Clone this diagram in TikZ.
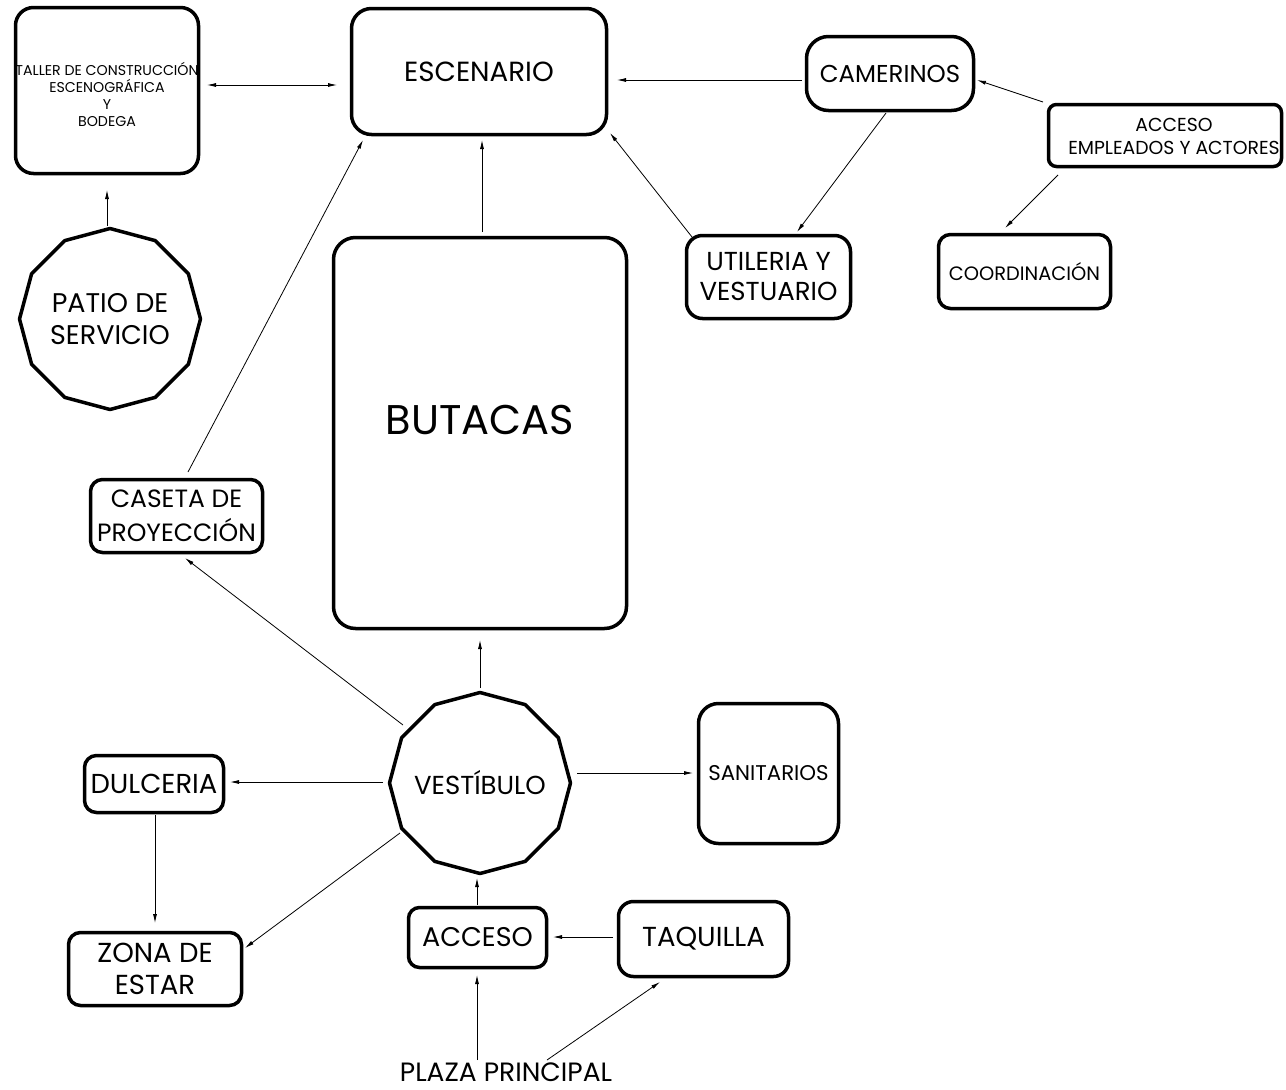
\documentclass[tikz,border=0pt]{standalone}
\usepackage{fontspec}
\setmainfont{Poppins}
\usetikzlibrary{arrows.meta,calc}
\newcommand\myfs[2]{\fontsize{#1}{#2}\selectfont}
\begin{document}
\begin{tikzpicture}[x=1pt,y=-1pt,
  box/.style={draw, line width=3.5pt, rounded corners=#1, inner sep=0pt, align=center},
  box/.default=18pt,
  poly/.style={circle, inner sep=0pt, align=center, minimum size=184pt},
  conn/.style={line width=0.8pt, -{Latex[length=9pt,width=4pt]}},
  dconn/.style={line width=0.8pt, {Latex[length=9pt,width=4pt]}-{Latex[length=9pt,width=4pt]}},
  plain/.style={line width=0.8pt}
]
\useasboundingbox[fill=white] (0,0) rectangle (1286,1090);

% boxes
\node[box=18pt, minimum width=183pt, minimum height=166pt,
  label={[font=\myfs{14.2}{17}, align=center, yshift=-4pt]center:TALLER DE CONSTRUCCIÓN\\ESCENOGRÁFICA\\Y\\BODEGA}]
  (taller) at (107,90.5) {};
\node[box=20pt, minimum width=255pt, minimum height=126pt, font=\myfs{27.7}{32}] (escenario) at (479,71.5) {ESCENARIO};
\node[box=22pt, minimum width=167pt, minimum height=74pt, font=\myfs{24.4}{30}] (camerinos) at (890,73.5) {CAMERINOS};
\node[box=8pt, minimum width=233pt, minimum height=62pt,
  label={[font=\myfs{18.8}{23}, align=center, xshift=9pt, yshift=-1pt]center:ACCESO\\EMPLEADOS Y ACTORES}]
  (accemp) at (1165,135.5) {};
\node[box=12pt, minimum width=172pt, minimum height=74pt, font=\myfs{19.4}{22}] (coord) at (1024.5,271.5) {COORDINACIÓN};
\node[box=16pt, minimum width=164pt, minimum height=83pt, font=\myfs{26}{30}] (utileria) at (768.5,277) {UTILERIA Y\\VESTUARIO};
\node[box=22pt, minimum width=293pt, minimum height=391pt,
  label={[font=\myfs{41.5}{50}, yshift=13pt]center:BUTACAS}]
  (butacas) at (480,433) {};
\node[box=12pt, minimum width=172pt, minimum height=73pt, font=\myfs{25}{34}] (caseta) at (176.5,516) {CASETA DE\\PROYECCIÓN};
\node[box=12pt, minimum width=139pt, minimum height=57pt, font=\myfs{27.4}{30}] (dulceria) at (154,784) {DULCERIA};
\node[box=12pt, minimum width=173pt, minimum height=73pt, font=\myfs{27.5}{32}] (zona) at (155,969) {ZONA DE\\ESTAR};
\node[box=20pt, minimum width=140pt, minimum height=140pt, font=\myfs{21.3}{24}] (sanitarios) at (768.5,773.5) {SANITARIOS};
\node[box=11pt, minimum width=138pt, minimum height=60pt, font=\myfs{27}{30}] (acceso) at (477.5,937.5) {ACCESO};
\node[box=15pt, minimum width=170pt, minimum height=75pt, font=\myfs{27.5}{30}] (taquilla) at (703.5,939) {TAQUILLA};
\node[font=\myfs{26.5}{30}, inner sep=0pt] (plaza) at (506,1072) {PLAZA PRINCIPAL};

% dodecagons
\node[poly, font=\myfs{27}{32}] (patio) at (110,319) {PATIO DE\\SERVICIO};
\draw[line width=3.5pt, line join=round] ([shift={(90:90.5)}]patio.center)
  \foreach \a in {120,150,...,420} { -- ([shift={(\a:90.5)}]patio.center) } -- cycle;
\node[poly, font=\myfs{26}{30}] (vest) at (480,783) {VESTÍBULO};
\draw[line width=3.5pt, line join=round] ([shift={(90:90.5)}]vest.center)
  \foreach \a in {120,150,...,420} { -- ([shift={(\a:90.5)}]vest.center) } -- cycle;

% connectors
\draw[dconn] ([shift={(100,-5.5)}]taller.center) -- ([shift={(-142,13.5)}]escenario.center);
\draw[conn] ([shift={(-3,-93)}]patio.center) -- ([shift={(0,99.5)}]taller.center);
\draw[conn] ([shift={(-88,6.5)}]camerinos.center) -- ([shift={(138,8.5)}]escenario.center);
\draw[conn] ([shift={(-76.5,-40)}]utileria.center) -- ([shift={(131,61.5)}]escenario.center);
\draw[conn] ([shift={(-4,39.5)}]camerinos.center) -- ([shift={(28.5,-45)}]utileria.center);
\draw[conn] ([shift={(-122,-33.5)}]accemp.center) -- ([shift={(87,6.5)}]camerinos.center);
\draw[conn] ([shift={(-107,39.5)}]accemp.center) -- ([shift={(-19.5,-43.5)}]coord.center);
\draw[conn] ([shift={(2,-201)}]butacas.center) -- ([shift={(3,68.5)}]escenario.center);
\draw[conn] ([shift={(11.5,-44)}]caseta.center) -- ([shift={(-116,68.5)}]escenario.center);
\draw[conn] ([shift={(-77,-58)}]vest.center) -- ([shift={(8.5,42)}]caseta.center);
\draw[conn] ([shift={(0,-95)}]vest.center) -- ([shift={(0,207)}]butacas.center);
\draw[conn] ([shift={(-97,-1)}]vest.center) -- ([shift={(76,-2)}]dulceria.center);
\draw[conn] ([shift={(1,31)}]dulceria.center) -- ([shift={(0,-46)}]zona.center);
\draw[conn] ([shift={(-80,50)}]vest.center) -- ([shift={(90,-21)}]zona.center);
\draw[conn] ([shift={(97,-10)}]vest.center) -- ([shift={(-75.5,-0.5)}]sanitarios.center);
\draw[conn] ([shift={(-0.5,-32.5)}]acceso.center) -- ([shift={(-3,95)}]vest.center);
\draw[conn] ([shift={(-90.5,-2)}]taquilla.center) -- ([shift={(75.5,-0.5)}]acceso.center);
\draw[conn] ([shift={(-29,-12)}]plaza.center) -- ([shift={(-0.5,37.5)}]acceso.center);
\draw[conn] ([shift={(41,-12)}]plaza.center) -- ([shift={(-43.5,43)}]taquilla.center);
\end{tikzpicture}
\end{document}
